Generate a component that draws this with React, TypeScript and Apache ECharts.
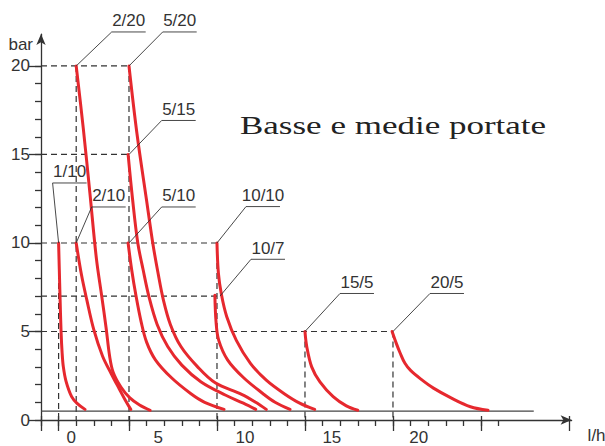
import React, { useEffect, useRef } from 'react';
import * as echarts from 'echarts';

// ---- data (flow in l/h, pressure in bar) ----
const NOMINAL_FLOW = [1, 2, 2, 5, 5, 5, 10, 10, 15, 20];
const NOMINAL_PRESSURE = [10, 10, 20, 10, 15, 20, 10, 7, 5, 5];

const CURVE_1_10 = [[1.0, 10], [1.04, 8.5], [1.08, 7], [1.14, 5], [1.2, 3.8], [1.27, 3], [1.42, 2.2], [1.74, 1.32], [2.05, 0.94], [2.5, 0.6]];
const CURVE_2_10 = [[2, 10], [2.3, 8.2], [2.6, 6.8], [3.0, 5.1], [3.5, 3.6], [4.0, 2.6], [4.45, 1.75], [4.8, 1.1], [5.1, 0.6]];
const CURVE_2_20 = [[2, 20], [2.4, 16.5], [2.78, 12.8], [3.15, 9.1], [3.45, 7], [3.7, 5.2], [3.9, 3.6], [4.1, 2.7], [4.55, 1.85], [5.05, 1.25], [5.6, 0.85], [6.2, 0.55]];
const CURVE_5_10 = [[4.95, 10], [5.15, 8.5], [5.4, 7], [5.7, 5.5], [6.0, 4.4], [6.5, 3.4], [7.4, 2.4], [8.5, 1.5], [9.3, 1.0], [10.4, 0.6]];
const CURVE_5_15 = [[4.95, 15], [5.2, 12.5], [5.5, 10], [5.8, 8.5], [6.15, 6.9], [6.6, 5.4], [7.2, 4.15], [8.0, 3.1], [9.1, 2.15], [10.5, 1.4], [11.5, 0.95], [12.2, 0.6]];
const CURVE_5_20 = [[5, 20], [5.45, 16.2], [6.0, 12.4], [6.35, 10], [6.65, 8.3], [6.95, 6.8], [7.35, 5.4], [7.95, 4.15], [8.9, 3.0], [9.9, 2.1], [11.4, 1.45], [12.2, 1.0], [12.8, 0.6]];
const CURVE_10_10 = [[10, 10], [10.08, 8.3], [10.25, 7.1], [10.55, 5.85], [11.1, 4.5], [11.9, 3.2], [12.8, 2.25], [13.8, 1.5], [14.7, 0.95], [15.55, 0.6]];
const CURVE_10_7 = [[9.88, 7.05], [9.95, 5.5], [10.1, 4.5], [10.6, 3.4], [11.5, 2.4], [12.6, 1.5], [13.3, 1.0], [14.15, 0.6]];
const CURVE_15_5 = [[15, 5], [15.1, 4.15], [15.38, 3.0], [15.85, 2.15], [16.6, 1.32], [17.35, 0.8], [18.0, 0.55]];
const CURVE_20_5 = [[19.95, 5], [20.2, 4.3], [20.4, 3.8], [20.68, 3.2], [21.0, 2.8], [21.6, 2.3], [22.3, 1.8], [23.3, 1.25], [24.4, 0.75], [25.4, 0.55]];

const CURVES = [CURVE_1_10, CURVE_2_10, CURVE_2_20, CURVE_5_10, CURVE_5_15, CURVE_5_20, CURVE_10_10, CURVE_10_7, CURVE_15_5, CURVE_20_5];

const IVP_PRESSURE = 0.5;
const IVP_END_FLOW = 28;

const X_MINOR_TICKS = [0, 1, 2, 3, 4, 5, 6, 7, 8, 9, 10, 11, 12, 13, 14, 15, 16, 17, 18, 19, 20, 21, 22, 23, 24, 25, 26];
const X_MAJOR_TICKS = [0, 1, 5, 10, 15, 20, 25, 30];
const X_LABELS = [0, 5, 10, 15, 20];
const Y_MINOR_TICKS = [0, 1, 2, 3, 4, 5, 6, 7, 8, 9, 10, 11, 12, 13, 14, 15, 16, 17, 18, 19, 20];
const Y_MAJOR_TICKS = [0, 5, 10, 15, 20];

// ---- layout (pixels) ----
// leader: [dx to underline start, dy to underline, anchor x shift]
const LEADER_LAYOUT = [
  [-6, -60, 0],
  [15.5, -36, 0],
  [35.5, -34, 0],
  [32.7, -36, 0],
  [32.7, -34, 0],
  [33.7, -34, 0],
  [29, -36.4, 0],
  [34, -36.8, 3],
  [35, -38, 0],
  [37, -38, 0],
];
const UNDERLINE = 34;

const TEXT = '#333';
const RED = '#e6282e';
const FONT = 'Liberation Sans';

function buildOption() {
  const labels = NOMINAL_FLOW.map((f, i) => `${f}/${NOMINAL_PRESSURE[i]}`);

  // guides: horizontal per pressure to max flow, vertical per flow from max pressure
  const hMap = new Map<number, number>();
  const vMap = new Map<number, number>();
  NOMINAL_FLOW.forEach((f, i) => {
    const p = NOMINAL_PRESSURE[i];
    hMap.set(p, Math.max(hMap.get(p) ?? 0, f));
    vMap.set(f, Math.max(vMap.get(f) ?? 0, p));
  });
  const dashStyle = { color: '#333', width: 1.2, type: [6, 4] as any };
  const guideSeries: any[] = [];
  hMap.forEach((f, p) => {
    guideSeries.push({
      type: 'line', data: [[0, p], [f, p]], showSymbol: false, silent: true,
      lineStyle: dashStyle, z: 2, clip: false,
    });
  });
  vMap.forEach((p, f) => {
    guideSeries.push({
      type: 'line', data: [[f, p], [f, 0]], showSymbol: false, silent: true,
      lineStyle: dashStyle, z: 2, clip: false,
    });
  });

  const curveSeries = CURVES.map((c, i) => ({
    name: labels[i],
    type: 'line',
    data: c,
    showSymbol: false,
    smooth: 0.35,
    silent: true,
    clip: false,
    z: 4,
    lineStyle: { color: RED, width: 3, cap: 'round' },
  }));

  const ivpSeries = {
    type: 'line',
    silent: true,
    showSymbol: false,
    z: 3,
    lineStyle: { color: '#444', width: 1.2 },
    data: [
      [0, IVP_PRESSURE],
      {
        value: [IVP_END_FLOW, IVP_PRESSURE],
        label: {
          show: true, formatter: 'i.v.p.', position: 'top', distance: 4, offset: [8, 0],
          color: TEXT, fontSize: 17, fontFamily: FONT,
        },
      },
    ],
  };

  const leaderSeries = {
    type: 'custom',
    coordinateSystem: 'cartesian2d',
    silent: true,
    clip: false,
    z: 6,
    encode: { x: 0, y: 1 },
    data: NOMINAL_FLOW.map((f, i) => [f, NOMINAL_PRESSURE[i]]),
    renderItem: (params: any, api: any) => {
      const i = params.dataIndex;
      const p = api.coord([api.value(0), api.value(1)]);
      const [dx, dy, sx] = LEADER_LAYOUT[i];
      const ax = p[0] + sx;
      const ay = p[1];
      const ux = p[0] + dx;
      const uy = p[1] + dy;
      return {
        type: 'group',
        children: [
          {
            type: 'polyline',
            shape: { points: [[ax, ay], [ux, uy], [ux + UNDERLINE, uy]] },
            style: { stroke: '#333', lineWidth: 0.9, fill: 'none' },
          },
          {
            type: 'text',
            x: ux + UNDERLINE / 2,
            y: uy - 11,
            style: {
              text: labels[i], fill: TEXT, fontSize: 17, fontFamily: FONT,
              align: 'center', verticalAlign: 'middle',
            },
          },
        ],
      };
    },
  };

  const axisLineStyle = { color: '#333', width: 1.3 };

  return {
    animation: false,
    backgroundColor: '#fff',
    grid: { left: 41, right: 33.4, top: 34.1, bottom: 26, containLabel: false, outerBoundsMode: 'none' },
    xAxis: [
      {
        type: 'value', position: 'bottom', min: 0, max: 30.15,
        axisLine: { show: true, onZero: false, symbol: ['none', 'arrow'], symbolSize: [7, 11], lineStyle: axisLineStyle },
        axisTick: { show: true, customValues: X_MINOR_TICKS, length: 6, lineStyle: axisLineStyle },
        axisLabel: { show: false },
        splitLine: { show: false },
        name: 'l/h', nameLocation: 'end', nameGap: 16,
        nameTextStyle: { color: TEXT, fontSize: 17, fontFamily: FONT, align: 'left', verticalAlign: 'top', padding: [7, 0, 0, 0] },
      },
      {
        type: 'value', position: 'bottom', min: 0, max: 30.15,
        axisLine: { show: false, onZero: false },
        axisTick: { show: true, customValues: X_MAJOR_TICKS, length: 11, lineStyle: axisLineStyle },
        axisLabel: { show: false },
        splitLine: { show: false },
      },
      {
        type: 'value', position: 'bottom', min: 0, max: 30.15,
        axisLine: { show: false, onZero: false },
        axisTick: { show: true, inside: true, customValues: X_MAJOR_TICKS, length: 4, lineStyle: axisLineStyle },
        axisLabel: { show: false },
        splitLine: { show: false },
      },
      {
        type: 'value', position: 'bottom', min: -1.744, max: 28.8,
        axisLine: { show: false, onZero: false },
        axisTick: { show: false },
        axisLabel: { show: true, customValues: X_LABELS, margin: 9, color: TEXT, fontSize: 17, fontFamily: FONT },
        splitLine: { show: false },
      },
    ],
    yAxis: [
      {
        type: 'value', position: 'left', min: 0, max: 21.8,
        axisLine: { show: true, onZero: false, symbol: ['none', 'arrow'], symbolSize: [7, 11], lineStyle: axisLineStyle },
        axisTick: { show: true, customValues: Y_MINOR_TICKS, length: 6, lineStyle: axisLineStyle },
        axisLabel: { show: false },
        splitLine: { show: false },
        name: 'bar', nameLocation: 'end', nameGap: -10,
        nameTextStyle: { color: TEXT, fontSize: 17, fontFamily: FONT, align: 'right', verticalAlign: 'middle', padding: [0, 8, 0, 0] },
      },
      {
        type: 'value', position: 'left', min: 0, max: 21.8,
        axisLine: { show: false, onZero: false },
        axisTick: { show: true, customValues: Y_MAJOR_TICKS, length: 12, lineStyle: axisLineStyle },
        axisLabel: { show: true, customValues: Y_MAJOR_TICKS, margin: 11, color: TEXT, fontSize: 17, fontFamily: FONT },
        splitLine: { show: false },
      },
    ],
    graphic: [
      {
        type: 'text',
        x: 240,
        y: 126,
        scaleX: 1.4,
        silent: true,
        style: {
          text: 'Basse e medie portate',
          fill: '#222',
          fontSize: 25,
          fontFamily: 'Liberation Serif',
          verticalAlign: 'middle',
          align: 'left',
        },
      },
    ],
    series: [...guideSeries, ivpSeries, ...curveSeries, leaderSeries],
  };
}

export default function App() {
  const ref = useRef<HTMLDivElement>(null);
  useEffect(() => {
    if (!ref.current) return;
    const chart = echarts.init(ref.current, null, { renderer: 'svg', width: 605, height: 446 });
    chart.setOption(buildOption() as any);
    return () => chart.dispose();
  }, []);
  return (
    <div
      ref={ref}
      style={{ position: 'fixed', left: 0, top: 0, width: 605, height: 446, background: '#fff' }}
    />
  );
}
